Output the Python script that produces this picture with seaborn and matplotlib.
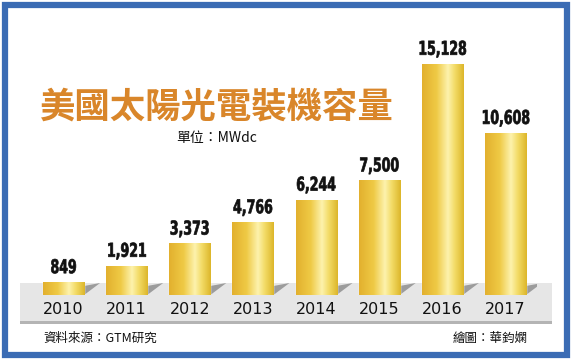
import numpy as np
import pandas as pd
import matplotlib
matplotlib.use('Agg')
import matplotlib.pyplot as plt
import seaborn as sns
from matplotlib.patches import Rectangle, Polygon
from matplotlib.colors import LinearSegmentedColormap
from matplotlib.transforms import Affine2D
from matplotlib import patheffects

years = ['2010', '2011', '2012', '2013', '2014', '2015', '2016', '2017']
capacity = [849, 1921, 3373, 4766, 6244, 7500, 15128, 10608]
title = '美國太陽光電裝機容量'
unit = '單位：MWdc'
source = '資料來源：GTM研究'
credit = '繪圖：華鈞嫻'

W, H = 575, 364
sns.set_theme(style='white')
plt.rcParams['font.family'] = ['Noto Sans CJK TC', 'DejaVu Sans']

fig = plt.figure(figsize=(W / 100, H / 100), dpi=100)
fig.patch.set_facecolor('white')


def fx(x):
    return x / W


def fy(y):
    return 1 - y / H


class Condense(patheffects.AbstractPathEffect):
    """squeeze glyphs horizontally about their centre, with a thin stroke"""

    def __init__(self, sx=0.66, lw=0.5):
        super().__init__()
        self.sx = sx
        self.lw = lw

    def draw_path(self, renderer, gc, tpath, affine, rgbFace=None):
        ext = tpath.transformed(affine).get_extents()
        cx = (ext.x0 + ext.x1) / 2
        aff = affine + Affine2D().translate(-cx, 0).scale(self.sx, 1).translate(cx, 0)
        gc0 = renderer.new_gc()
        gc0.copy_properties(gc)
        gc0.set_linewidth(self.lw)
        gc0.set_foreground(rgbFace)
        renderer.draw_path(gc0, tpath, aff, rgbFace)
        gc0.restore()


# gray floor band
fig.add_artist(Rectangle((fx(20), fy(321)), fx(532), 38 / H, transform=fig.transFigure,
                         facecolor='#e6e6e6', edgecolor='none', zorder=0))
fig.add_artist(Rectangle((fx(20), fy(324)), fx(532), 3 / H, transform=fig.transFigure,
                         facecolor='#b4b4b4', edgecolor='none', zorder=0))
# blue frame
fig.add_artist(Rectangle((fx(5), fy(355)), fx(562), 350 / H, transform=fig.transFigure,
                         facecolor='none', edgecolor='#3b6cb4', linewidth=4.5, zorder=10))

ax = fig.add_axes([fx(32), fy(295), fx(505), 260 / H])
ax.set_facecolor('none')
df = pd.DataFrame({'year': years, 'mw': capacity})
sns.barplot(data=df, x='year', y='mw', ax=ax, width=0.65, color='#ecc640',
            saturation=1, errorbar=None, zorder=3)
ax.set_ylim(0, 17000)
ax.set_xlim(-0.5, len(years) - 0.5)

gold = LinearSegmentedColormap.from_list('gold', [
    (0.0, '#e2b02e'), (0.35, '#efca45'), (0.62, '#fdf2ad'),
    (0.78, '#f3dc68'), (1.0, '#dcb62a')])
grad = np.linspace(0, 1, 256).reshape(1, -1)
px_x = len(years) / 505.0
px_y = 17000 / 260.0
for p, v in zip(ax.patches, capacity):
    x0, w, h = p.get_x(), p.get_width(), p.get_height()
    im = ax.imshow(grad, cmap=gold, extent=(x0, x0 + w, 0, h), aspect='auto', zorder=4)
    im.set_clip_path(p)
    # cast shadow on floor
    sh = Polygon([(x0 + w, 0), (x0 + w + 16 * px_x, 12 * px_y), (x0 + w, 9 * px_y)],
                 closed=True, facecolor='#9c9c9c', edgecolor='none', zorder=2)
    ax.add_patch(sh)
    t = ax.annotate(f'{v:,}', (x0 + w / 2, h), xytext=(0, 3.5), textcoords='offset points',
                    ha='center', va='bottom', fontsize=13.7, fontweight='bold',
                    family=['DejaVu Sans'], color='#111111', zorder=6)
    t.set_path_effects([Condense(0.66, 0.5)])

ax.set_xlabel('')
ax.set_ylabel('')
ax.set_yticks([])
ax.tick_params(axis='x', length=0, pad=5, labelsize=11.5, labelcolor='#111111')
for lab in ax.get_xticklabels():
    lab.set_family(['DejaVu Sans'])
for s in ax.spines.values():
    s.set_visible(False)

fig.text(fx(40), fy(107), title, fontsize=25.5, fontweight='bold', color='#d9862a',
         ha='left', va='center')
fig.text(fx(176), fy(138), unit, fontsize=10, color='#111111', ha='left', va='center')
fig.text(fx(43), fy(338), source, fontsize=9, color='#111111', ha='left', va='center')
fig.text(fx(528), fy(338), credit, fontsize=9, color='#111111', ha='right', va='center')

fig.savefig('out.png', dpi=100)
